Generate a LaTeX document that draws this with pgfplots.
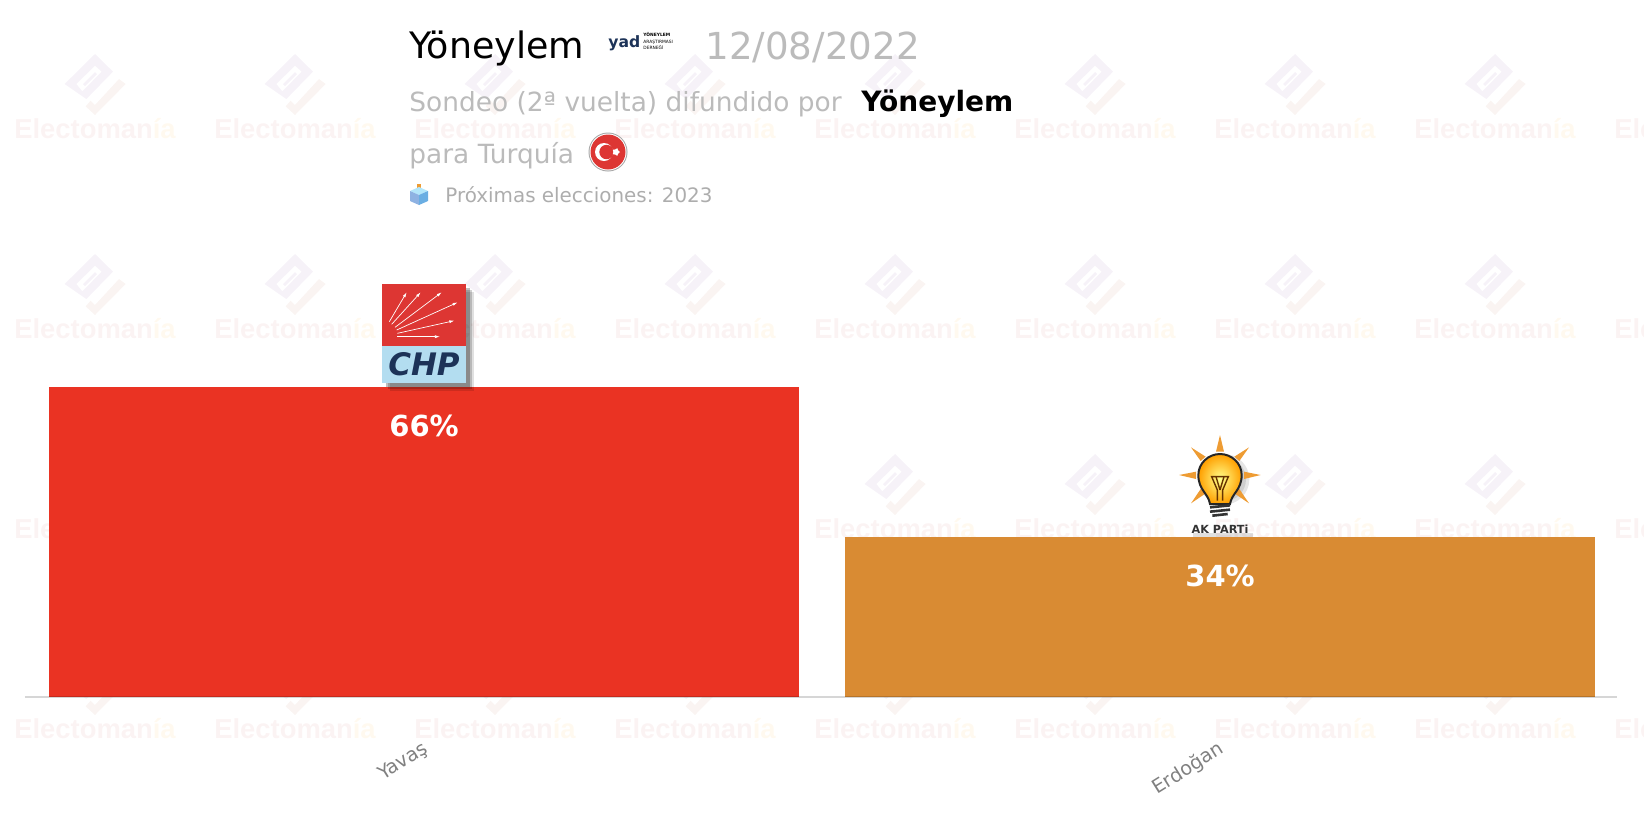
\documentclass[border=0pt]{standalone}
\usepackage{fontspec}
\setmainfont{DejaVu Sans}
\newfontfamily\wmfont{Liberation Sans}
\usepackage{pgfplots}
\pgfplotsset{compat=1.18}
\usetikzlibrary{shapes.geometric,arrows.meta}
\definecolor{barred}{HTML}{EA3323}
\definecolor{barorange}{HTML}{D98B33}
\definecolor{txtgrey}{HTML}{BBBBBB}
\definecolor{wmpink}{HTML}{FBF3F3}
\definecolor{wmyellow}{HTML}{FFF9EF}
\definecolor{wmlilac}{HTML}{F6F2F8}
\definecolor{wmpeach}{HTML}{FAF4F2}
\definecolor{chpred}{HTML}{DD3633}
\definecolor{chpblue}{HTML}{B3DDF0}
\definecolor{chpnavy}{HTML}{1D3358}
\definecolor{akpray}{HTML}{EE9C33}
\begin{document}
\begin{tikzpicture}
% everything that is not data is placed in image pixels, 1px = 0.5pt
\begin{scope}[x=0.5pt,y=-0.5pt]
\useasboundingbox (0,0) rectangle (1644,816);
% watermark
\begin{scope}
\clip (0,0) rectangle (1644,816);
\foreach \r in {0,200,400,600}{
  \foreach \c in {0,200,...,1600}{
    \begin{scope}[shift={(95+\c,84+\r)},scale=1/3]
      \fill[wmlilac,even odd rule] (0,-90) -- (54,-37) -- (-26,45) -- (-91,0) -- cycle
        (-56,0) -- (0,-55) -- (20,-37) -- (-38,22) -- cycle;
      \fill[wmlilac] (-36,0) -- (0,-36) -- (6,-30) -- (-30,6) -- cycle;
      \fill[wmpeach] (92,0) -- (0,93) -- (-28,67) -- (-13,50) -- (0,63) -- (72,-15) -- cycle;
    \end{scope}
    \node[font=\wmfont\bfseries\fontsize{13.7}{14}\selectfont,inner sep=0pt] at (95+\c,129+\r)
      {\textcolor{wmpink}{Electoman}\textcolor{wmyellow}{ía}};
  }
}
\end{scope}
\end{scope}

\begin{axis}[
    at={(12.5pt,-348.5pt)},
    anchor=south west,
    scale only axis,
    width=796pt,
    height=164.5pt,
    xmin=-0.5013, xmax=1.4987,
    ymin=0, ymax=70,
    axis y line=none,
    axis x line=bottom,
    axis on top=true,
    clip=false,
    x axis line style={-,black,opacity=0.16,line width=1pt},
    major tick length=0pt,
    xtick={0,1},
    xticklabels={Yavaş,Erdoğan},
    xticklabel style={rotate=32,anchor=east,text=black!50,font=\fontsize{9.6}{12}\selectfont,xshift=-9pt,yshift=-22pt},
    /pgf/number format/assume math mode=true,
    nodes near coords={\pgfmathprintnumber{\pgfplotspointmeta}\%},
    every node near coord/.append style={anchor=center,yshift=-19.5pt,text=white,font=\bfseries\fontsize{14.5}{16}\selectfont},
    ybar,
    bar width=375pt,
    bar shift=0pt,
]
\addplot[fill=barred,draw=none] coordinates {(0,66)};
\addplot[fill=barorange,draw=none] coordinates {(1,34)};
\end{axis}

\begin{scope}[x=0.5pt,y=-0.5pt]
% header
\node[anchor=base west,inner sep=0pt,font=\fontsize{18.2}{20}\selectfont] at (409,58) {Yöneylem};
\node[anchor=base west,inner sep=0pt,text=txtgrey,font=\fontsize{18.6}{20}\selectfont] at (705,59) {12/08/2022};
\node[anchor=base west,inner sep=0pt,text=txtgrey,font=\fontsize{13.2}{15}\selectfont] at (409,111) {Sondeo (2ª vuelta) difundido por};
\node[anchor=base west,inner sep=0pt,font=\bfseries\fontsize{14}{16}\selectfont] at (861,111) {Yöneylem};
\node[anchor=base west,inner sep=0pt,text=txtgrey,font=\fontsize{13.2}{15}\selectfont] at (409,163) {para Turquía};
\node[anchor=base west,inner sep=0pt,text=black!32,font=\fontsize{9.95}{12}\selectfont] at (445,202) {Próximas elecciones: 2023};
% pollster logo
\node[anchor=base west,inner sep=0pt,font=\bfseries\fontsize{7.8}{8}\selectfont,text=chpnavy] at (608,47) {yad};
\node[anchor=west,inner sep=0pt,align=left,font=\fontsize{2.2}{3.4}\selectfont] at (643,41) {\textbf{YÖNEYLEM}\\ARAŞTIRMASI\\DERNEĞİ};
% flag
\fill[black!35] (608,152) circle (19.5);
\fill[white] (608,152) circle (18.5);
\fill[chpred] (608,152) circle (17.5);
\fill[white] (604,152) circle (9);
\fill[chpred] (606.5,152) circle (7.2);
\node[star,star points=5,fill=white,inner sep=0pt,minimum size=4pt,rotate=-90] at (616,152) {};
% ballot box
\fill[akpray] (417,184) rectangle (421,191);
\fill[cyan!30!white] (410,191) -- (419,187) -- (428,191) -- (419,195) -- cycle;
\fill[cyan!55!blue!45!white] (410,191) -- (419,195) -- (419,205) -- (410,201) -- cycle;
\fill[cyan!70!blue!60!white] (419,195) -- (428,191) -- (428,201) -- (419,205) -- cycle;
% CHP logo
\foreach \o/\a in {8/0.12,6/0.18,4/0.25}{
  \fill[black,opacity=\a] (382+\o,284+\o) rectangle (466+\o,383+\o);
}
\fill[chpred] (382,284) rectangle (466,346);
\fill[chpblue] (382,346) rectangle (466,383);
\begin{scope}[shift={(0,230)},scale=1/3,white,line width=0.35pt,-{Latex[length=2.5pt,width=1.5pt]}]
  \draw (1168,275) -- (1220,187);
  \draw (1175,283) -- (1262,187);
  \draw (1185,292) -- (1325,187);
  \draw (1190,300) -- (1373,217);
  \draw (1192,310) -- (1363,272);
  \draw (1192,320) -- (1320,320);
\end{scope}
\node[inner sep=0pt,text=chpnavy,font=\bfseries\itshape\fontsize{15.5}{16}\selectfont] at (424,364) {CHP};
% AK Parti logo
\begin{scope}[shift={(1050,400)},scale=1/3]
  \fill[black,opacity=0.10] (522,238) circle (76);
  \fill[black,opacity=0.10] (522,238) circle (66);
  \fill[black,opacity=0.12] (430,400) rectangle (610,412);
  \foreach \p in {
    {(510,105) -- (498,155) -- (522,155)},
    {(632,225) -- (582,215) -- (582,237)},
    {(387,225) -- (438,215) -- (438,237)},
    {(597,142) -- (553,170) -- (568,183)},
    {(423,142) -- (467,170) -- (452,183)},
    {(597,310) -- (553,280) -- (568,267)},
    {(423,310) -- (467,280) -- (452,267)}}{
    \fill[akpray] \p -- cycle;
  }
  \shade[inner color=yellow!45!white,outer color=orange!75!yellow,draw=black!85,line width=1pt]
    (480,312) .. controls (475,280) and (445,270) .. (445,225)
    .. controls (445,190) and (475,162) .. (510,162)
    .. controls (545,162) and (575,190) .. (575,225)
    .. controls (575,270) and (545,280) .. (540,312) -- cycle;
  \draw[black!60!orange,line width=0.7pt] (502,302) -- (502,270) -- (485,230) -- (535,230) -- (518,270) -- (518,302);
  \draw[black!60!orange,line width=0.7pt] (510,270) -- (498,230) (510,270) -- (522,230);
  \draw[black!80,line width=1.3pt] (480,322) -- (540,316) (480,335) -- (540,329) (487,347) -- (533,342);
  \node[inner sep=0pt,text=black!80,font=\bfseries\fontsize{5.6}{6}\selectfont] at (510,388) {AK PARTi};
\end{scope}
\end{scope}
\end{tikzpicture}
\end{document}
